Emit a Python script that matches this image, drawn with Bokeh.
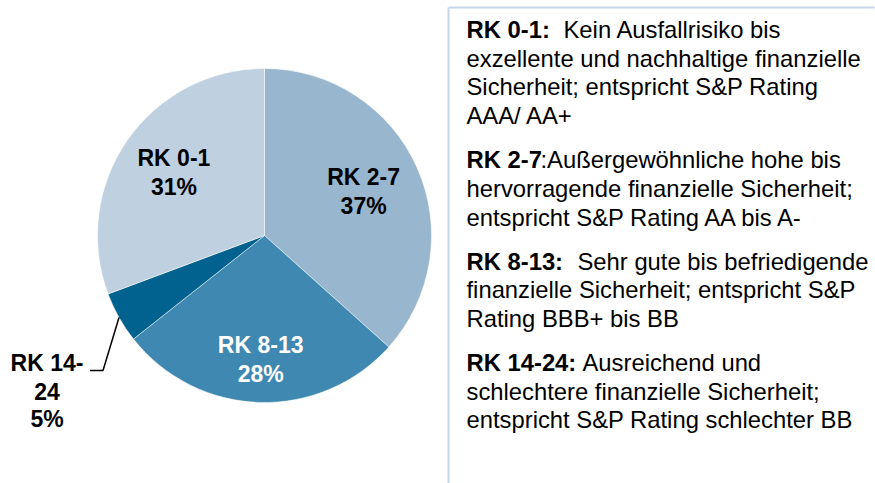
import math
from bokeh.plotting import figure
from bokeh.models import Range1d
from bokeh.embed import file_html
from bokeh.resources import INLINE
from bokeh.core.properties import value

# ---------------- data ----------------
categories = ["RK 2-7", "RK 8-13", "RK 14-24", "RK 0-1"]      # clockwise from 12 o'clock
shares = [37, 28, 5, 31]
pct_labels = ["37%", "28%", "5%", "31%"]
colors = ["#98B6CE", "#3E88B1", "#016290", "#BFD1E0"]
label_colors = ["#000000", "#FFFFFF", "#000000", "#000000"]

legend_heads = ["RK 0-1:", "RK 2-7", "RK 8-13:", "RK 14-24:"]
legend_texts = [
    ["Kein Ausfallrisiko bis", "exzellente und nachhaltige finanzielle",
     "Sicherheit; entspricht S&P Rating", "AAA/ AA+"],
    [":Außergewöhnliche hohe bis", "hervorragende finanzielle Sicherheit;",
     "entspricht S&P Rating AA bis A-"],
    ["Sehr gute bis befriedigende", "finanzielle Sicherheit; entspricht S&P",
     "Rating BBB+ bis BB"],
    ["Ausreichend und", "schlechtere finanzielle Sicherheit;",
     "entspricht S&P Rating schlechter BB"],
]

# ---------------- layout / style ----------------
W, H = 875, 483
FONT = "Liberation Sans"


def X(px):  # picture pixel -> data x
    return px


def Y(py):  # picture pixel (from top) -> data y
    return H - py


p = figure(width=W, height=H, output_backend="svg", toolbar_location=None,
           x_range=Range1d(0, W), y_range=Range1d(0, H), min_border=0)
p.axis.visible = False
p.grid.visible = False
p.outline_line_color = None
p.background_fill_color = "white"
p.border_fill_color = "white"

# ---------------- pie ----------------
cx, cy, R = X(264), Y(235), 167
total = sum(shares)
starts, ends, mids = [], [], []
a = math.pi / 2
for s in shares:
    span = 2 * math.pi * s / total
    starts.append(a)
    ends.append(a - span)
    mids.append(a - span / 2)
    a -= span

p.wedge(x=[cx] * len(shares), y=[cy] * len(shares), radius=R,
        start_angle=starts, end_angle=ends, direction="clock",
        fill_color=colors, line_color="white", line_width=0.5)

label_frac = [0.65, 0.74, None, 0.66]
fs_pie = "23px"
for i, f in enumerate(label_frac):
    if f is None:
        continue
    lx = cx + f * R * math.cos(mids[i])
    ly = cy + f * R * math.sin(mids[i])
    p.text(x=[lx, lx], y=[ly + 14.5, ly - 14.5], text=[categories[i], pct_labels[i]],
           text_font=value(FONT), text_font_style="bold", text_font_size=fs_pie,
           text_color=label_colors[i], text_align="center", text_baseline="middle")

# outside label for the small slice (with leader line)
k = 2
ex = cx + R * math.cos(mids[k])
ey = cy + R * math.sin(mids[k])
elx, ely = ex - 16, ey - 53
p.line(x=[ex, elx, elx - 13], y=[ey, ely, ely], line_color="black", line_width=1.5)
name_parts = ["RK 14-", "24"]
tx = elx - 56
p.text(x=[tx, tx, tx], y=[ely + 7, ely - 21, ely - 49],
       text=name_parts + [pct_labels[k]],
       text_font=value(FONT), text_font_style="bold", text_font_size=fs_pie,
       text_color="black", text_align="center", text_baseline="middle")

# ---------------- legend box ----------------
box_col = "#C7D6E6"
p.line(x=[X(448), X(448)], y=[Y(7), -20], line_color=box_col, line_width=2)
p.line(x=[X(448), X(874)], y=[Y(7), Y(7)], line_color=box_col, line_width=2)

fs_leg = "23.8px"
head_x = X(466)
cont_x = [X(563), X(540), X(577), X(582)]
line_h = 28.7
para_gap = 44
base = 29
for j, lines in enumerate(legend_texts):
    ys = [Y(base + n * line_h) for n in range(len(lines))]
    p.text(x=[head_x], y=[ys[0]], text=[legend_heads[j]],
           text_font=value(FONT), text_font_style="bold", text_font_size=fs_leg,
           text_color="black", text_align="left", text_baseline="alphabetic")
    xs = [cont_x[j]] + [head_x] * (len(lines) - 1)
    p.text(x=xs, y=ys, text=lines,
           text_font=value(FONT), text_font_size=fs_leg,
           text_color="black", text_align="left", text_baseline="alphabetic")
    base = base + (len(lines) - 1) * line_h + para_gap

open("out.html", "w").write(file_html(p, INLINE))
